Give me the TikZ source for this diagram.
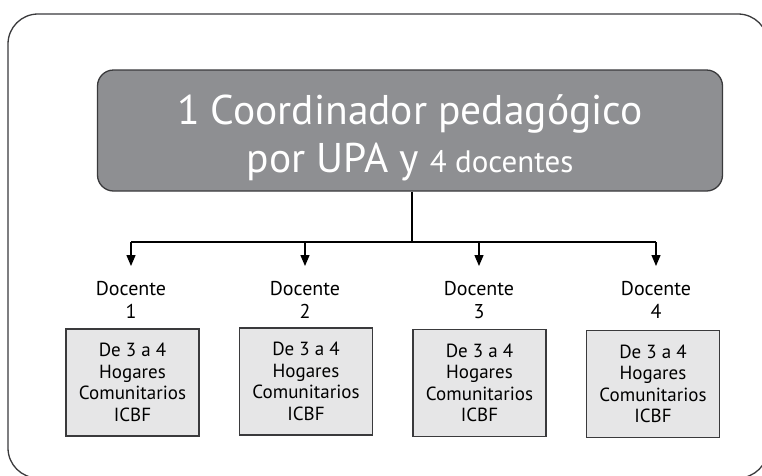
\documentclass[tikz,border=0pt]{standalone}
\usepackage{fontspec}
\setmainfont{PT Sans}
\usetikzlibrary{arrows.meta}
\definecolor{headgray}{HTML}{8E8F92}
\definecolor{boxgray}{HTML}{E6E6E7}
\definecolor{edgegray}{HTML}{3A3A3C}
\begin{document}
\begin{tikzpicture}[x=1pt,y=-1pt,
  frame/.style={draw=edgegray,line width=1.3pt,rounded corners=30pt},
  head/.style={draw=edgegray,fill=headgray,line width=1.3pt,rounded corners=16pt,
    minimum width=625pt,minimum height=121pt,inner sep=0pt,align=center,text=white,
    font=\fontsize{41.5}{48}\selectfont},
  unit/.style={draw=edgegray,fill=boxgray,line width=1.6pt,minimum width=133pt,
    minimum height=107pt,inner sep=0pt,align=center,
    font=\fontsize{19}{21.5}\selectfont},
  doc/.style={align=center,inner sep=0pt,font=\fontsize{20}{23}\selectfont},
  conn/.style={line width=1.3pt,black},
  arr/.style={conn,-{Triangle[width=9pt,length=11pt]}}]
\useasboundingbox (0,0) rectangle (762,475);
\clip (0,0) rectangle (762,475);
\fill[white] (0,0) rectangle (762,475);
\draw[frame] (8,14) rectangle (768,478);

\node[head] (head) at (410,130.5) {\rule{0pt}{44pt}1 Coordinador pedagógico\\
  por UPA y {\fontsize{31}{48}\selectfont 4 docentes}};

\coordinate (j) at (412,242);
\coordinate (h1) at (131,242);
\coordinate (h2) at (305,242);
\coordinate (h3) at (479,242);
\coordinate (h4) at (656,242);
\coordinate (a1) at (131,266);
\coordinate (a2) at (305,266);
\coordinate (a3) at (479,266);
\coordinate (a4) at (656,266);

\draw[conn] (head.south -| j) -- (j);
\draw[conn] (h1) -- (h4);
\draw[arr] (h1) -- (a1);
\draw[arr] (h2) -- (a2);
\draw[arr] (h3) -- (a3);
\draw[arr] (h4) -- (a4);

\node[doc] (d1) at (131,300) {Docente\\1};
\node[doc] (d2) at (305,300) {Docente\\2};
\node[doc] (d3) at (479,300) {Docente\\3};
\node[doc] (d4) at (656,300) {Docente\\4};

\node[unit] (u1) at (132.5,382.5) {De 3 a 4\\Hogares\\Comunitarios\\ICBF};
\node[unit] (u2) at (306,381.5) {De 3 a 4\\Hogares\\Comunitarios\\ICBF};
\node[unit] (u3) at (479.5,383) {De 3 a 4\\Hogares\\Comunitarios\\ICBF};
\node[unit] (u4) at (653,384) {De 3 a 4\\Hogares\\Comunitarios\\ICBF};
\end{tikzpicture}
\end{document}
